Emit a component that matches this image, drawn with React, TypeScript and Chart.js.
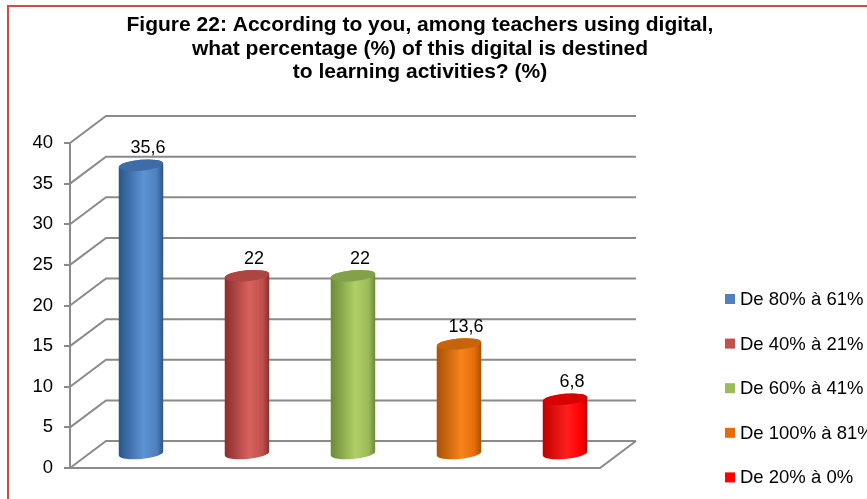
import React, { useEffect, useRef } from "react";
import { Chart, registerables } from "chart.js";

Chart.register(...registerables);

const TITLE_LINES = [
  "Figure 22: According to you, among teachers using digital,",
  "what percentage (%) of this digital is destined",
  "to learning activities? (%)",
];
const CATEGORIES = ["De 80% à 61%", "De 40% à 21%", "De 60% à 41%", "De 100% à 81%", "De 20% à 0%"];
const VALUES = [35.6, 22, 22, 13.6, 6.8];
const Y_MIN = 0;
const Y_MAX = 40;
const Y_STEP = 5;

const BASE_COLORS = ["#4f81bd", "#c0504d", "#9bbb59", "#e46c0a", "#ff0000"];
const DARK_COLORS = ["#2b5689", "#8a2e2c", "#6c8a36", "#a85105", "#c00000"];
const LIGHT_COLORS = ["#5d92d4", "#d8615d", "#afcf66", "#f5851a", "#ff1f1f"];
const CAP_COLORS = ["#3e6ca6", "#ad4542", "#83a148", "#c7640b", "#d80000"];

const W = 920;
const H = 499;
const DX = 36;
const DY = 27;
const FONT = '"Liberation Sans", Arial, sans-serif';

const fmt = (v: number) => String(v).replace(".", ",");

const threeD = {
  id: "threeD",
  beforeDraw(chart: any) {
    const ctx = chart.ctx;
    ctx.save();
    ctx.fillStyle = "#ffffff";
    ctx.fillRect(0, 0, chart.width, chart.height);
    ctx.strokeStyle = "#d24a4a";
    ctx.lineWidth = 2;
    ctx.strokeRect(8, 6, chart.width + 50, chart.height + 50);
    // title
    ctx.fillStyle = "#000";
    ctx.font = `bold 21px ${FONT}`;
    ctx.textAlign = "center";
    ctx.textBaseline = "alphabetic";
    TITLE_LINES.forEach((t, i) => ctx.fillText(t, 420, 31 + i * 23.7));
    // legend
    ctx.font = `18.5px ${FONT}`;
    ctx.textAlign = "left";
    ctx.textBaseline = "middle";
    CATEGORIES.forEach((c, i) => {
      const y = 299 + i * 44.6;
      ctx.fillStyle = BASE_COLORS[i];
      ctx.fillRect(725, y - 5, 10, 10);
      ctx.fillStyle = "#000";
      ctx.fillText(c, 740, y + 1);
    });
    ctx.restore();
  },
  beforeDatasetsDraw(chart: any) {
    const ctx = chart.ctx;
    const y = chart.scales.y;
    const { left: L, right: R } = chart.chartArea;
    ctx.save();
    ctx.strokeStyle = "#8a8a8a";
    ctx.lineWidth = 2;
    ctx.lineCap = "butt";
    for (let v = Y_MIN; v <= Y_MAX; v += Y_STEP) {
      const py = y.getPixelForValue(v);
      ctx.beginPath();
      ctx.moveTo(L, py);
      ctx.lineTo(L + DX, py - DY);
      ctx.lineTo(R + DX, py - DY);
      ctx.stroke();
    }
    const p0 = y.getPixelForValue(0);
    ctx.beginPath();
    ctx.moveTo(L, p0);
    ctx.lineTo(R, p0);
    ctx.lineTo(R + DX, p0 - DY);
    ctx.stroke();
    ctx.restore();
  },
  beforeDatasetDraw() {
    return false;
  },
  afterDatasetsDraw(chart: any) {
    const ctx = chart.ctx;
    const meta = chart.getDatasetMeta(0);
    ctx.save();
    meta.data.forEach((el: any, i: number) => {
      const rx = el.width / 2;
      const ry = 5.5;
      const cx = el.x + DX / 2;
      const top = el.y - DY / 2;
      const bot = el.base - DY / 2;
      const rot = -0.09;
      const g = ctx.createLinearGradient(cx - rx, 0, cx + rx, 0);
      g.addColorStop(0, DARK_COLORS[i]);
      g.addColorStop(0.55, LIGHT_COLORS[i]);
      g.addColorStop(0.85, BASE_COLORS[i]);
      g.addColorStop(1, DARK_COLORS[i]);
      ctx.beginPath();
      ctx.moveTo(cx - rx, top);
      ctx.lineTo(cx - rx, bot);
      ctx.ellipse(cx, bot, rx, ry, rot, Math.PI, 0, true);
      ctx.lineTo(cx + rx, top);
      ctx.ellipse(cx, top, rx, ry, rot, 0, Math.PI, true);
      ctx.closePath();
      ctx.fillStyle = g;
      ctx.fill();
      ctx.beginPath();
      ctx.ellipse(cx, top, rx, ry, rot, 0, Math.PI * 2);
      ctx.fillStyle = CAP_COLORS[i];
      ctx.fill();
      // value label
      ctx.fillStyle = "#000";
      ctx.font = `18px ${FONT}`;
      ctx.textAlign = "center";
      ctx.textBaseline = "middle";
      ctx.fillText(fmt(VALUES[i]), cx + 7, top - 17);
    });
    ctx.restore();
  },
};

export default function App() {
  const ref = useRef<HTMLCanvasElement>(null);
  useEffect(() => {
    if (!ref.current) return;
    const chart = new Chart(ref.current, {
      type: "bar",
      data: {
        labels: CATEGORIES,
        datasets: [
          {
            label: "%",
            data: VALUES,
            backgroundColor: BASE_COLORS,
            barPercentage: 0.42,
            categoryPercentage: 1,
          },
        ],
      },
      options: {
        responsive: false,
        animation: false,
        devicePixelRatio: 1,
        layout: { padding: { left: 0, top: 143, right: W - 600, bottom: H - 468 } },
        plugins: {
          legend: { display: false },
          title: { display: false },
          tooltip: { enabled: false },
        },
        scales: {
          x: { display: false },
          y: {
            min: Y_MIN,
            max: Y_MAX,
            afterFit: (s: any) => {
              s.width = 70;
            },
            ticks: {
              stepSize: Y_STEP,
              color: "#000",
              padding: 11,
              font: { family: FONT, size: 18.5 },
            },
            grid: {
              display: true,
              drawOnChartArea: false,
              drawTicks: true,
              tickLength: 6,
              color: "#8a8a8a",
              lineWidth: 2,
            },
            border: { display: true, color: "#8a8a8a", width: 2 },
          },
        },
      },
      plugins: [threeD],
    } as any);
    return () => chart.destroy();
  }, []);
  return (
    <div style={{ position: "fixed", left: 0, top: 0, width: 867, height: 499, overflow: "hidden", background: "#fff" }}>
      <canvas ref={ref} width={W} height={H} style={{ display: "block", width: W, height: H }} />
    </div>
  );
}
